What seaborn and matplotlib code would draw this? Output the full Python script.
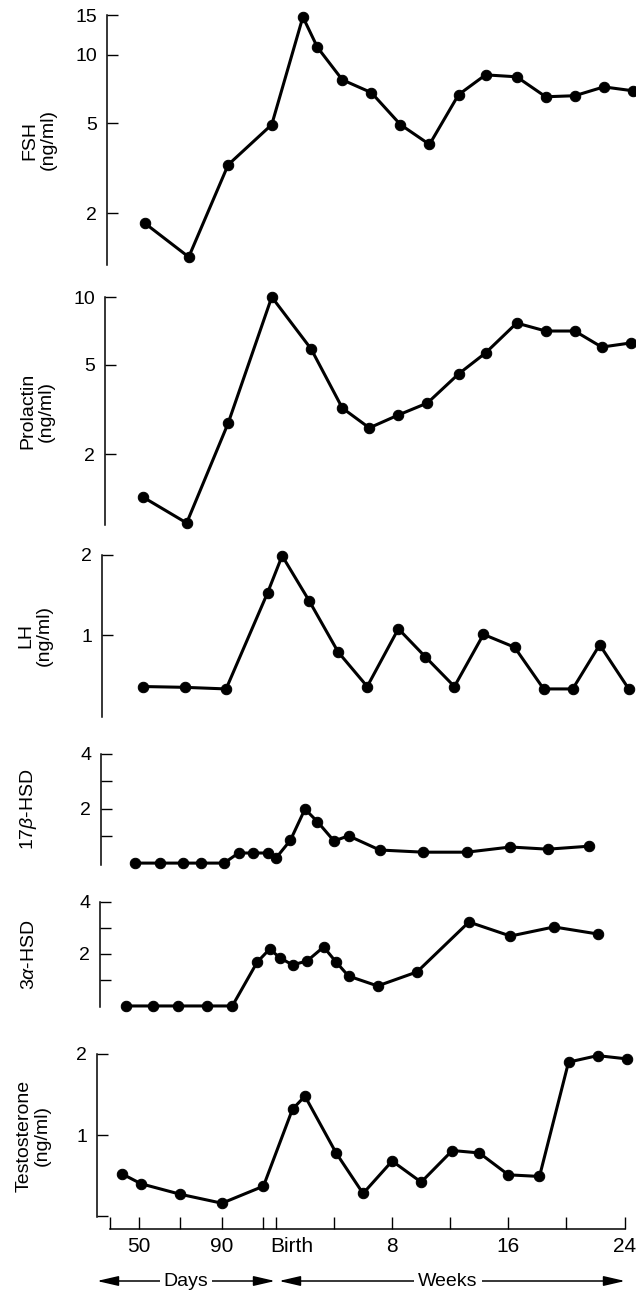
import numpy as np
import pandas as pd
import matplotlib
matplotlib.use('Agg')
import matplotlib.pyplot as plt
import matplotlib.transforms as mtransforms
import seaborn as sns

# ---------------- data (x = age in days from conception, birth ~ day 116) ----------------
fsh_day = [53, 74, 93, 114, 129, 136, 148, 162, 176, 190, 204, 217, 232, 246, 260, 274, 288]
fsh_val = [1.8, 1.28, 3.27, 4.92, 14.7, 10.8, 7.76, 6.81, 4.92, 4.02, 6.67, 8.16, 8.0, 6.53, 6.6, 7.22, 6.94]

prl_day = [52, 73, 93, 114, 133, 148, 161, 175, 189, 204, 217, 232, 246, 260, 273, 287]
prl_val = [1.29, 0.99, 2.75, 10.0, 5.87, 3.21, 2.62, 2.99, 3.38, 4.55, 5.64, 7.66, 7.06, 7.06, 5.99, 6.25]

lh_day = [52, 72, 92, 112, 119, 132, 146, 160, 175, 188, 202, 216, 231, 245, 259, 272, 286]
lh_val = [0.36, 0.35, 0.33, 1.53, 1.99, 1.43, 0.79, 0.36, 1.08, 0.73, 0.36, 1.01, 0.85, 0.33, 0.33, 0.88, 0.33]

hsd17_day = [48, 60, 71, 80, 91, 98, 105, 112, 116, 123, 130, 136, 144, 151, 166, 187, 208, 229, 247, 267]
hsd17_val = [0, 0, 0, 0, 0, 0.37, 0.37, 0.37, 0.18, 0.84, 1.98, 1.52, 0.81, 1.0, 0.48, 0.40, 0.40, 0.59, 0.51, 0.62]

hsd3_day = [44, 57, 69, 83, 95, 107, 113, 118, 124, 131, 139, 145, 151, 165, 184, 209, 229, 250, 271]
hsd3_val = [0, 0, 0, 0, 0, 1.69, 2.19, 1.85, 1.58, 1.73, 2.27, 1.69, 1.15, 0.77, 1.31, 3.23, 2.69, 3.04, 2.77]

testo_day = [42, 51, 70, 90, 110, 124, 130, 145, 158, 172, 186, 201, 214, 228, 243, 257, 271, 285]
testo_val = [0.52, 0.40, 0.27, 0.16, 0.37, 1.32, 1.48, 0.78, 0.28, 0.68, 0.42, 0.81, 0.78, 0.51, 0.49, 1.90, 1.98, 1.94]

x_ticks = [36, 50, 70, 90, 110, 116, 144, 172, 200, 228, 256, 284]
x_labels = ['', '50', '', '90', '', 'Birth', '', '8', '', '16', '', '24']

# ---------------- style ----------------
sns.set_style('ticks')
plt.rcParams['font.family'] = ['Liberation Sans', 'DejaVu Sans']
plt.rcParams['mathtext.fontset'] = 'custom'
plt.rcParams['mathtext.it'] = 'Liberation Sans:italic'

W, H = 636, 1294
fig = plt.figure(figsize=(W / 100, H / 100), dpi=100)
XLIM = (29.8, 289.5)

# label, x, y, log, ylim, yticks, yticklabels, top px, bottom px, spine px, label right px
panels = [
    ('FSH\n(ng/ml)', fsh_day, fsh_val, True, (1.18, 15), [2, 5, 10, 15], ['2', '5', '10', '15'], 15, 265, 107, 57),
    ('Prolactin\n(ng/ml)', prl_day, prl_val, True, (0.97, 10), [2, 5, 10], ['2', '5', '10'], 297, 525, 105, 55),
    ('LH\n(ng/ml)', lh_day, lh_val, False, (-0.02, 2), [1, 2], ['1', '2'], 555, 717, 102, 53),
    (r'17$\beta$-HSD', hsd17_day, hsd17_val, False, (-0.07, 4), [1, 2, 3, 4], ['', '2', '', '4'], 754, 865, 101, 39),
    (r'3$\alpha$-HSD', hsd3_day, hsd3_val, False, (-0.04, 4), [1, 2, 3, 4], ['', '2', '', '4'], 902, 1007, 100, 38),
    ('Testosterone\n(ng/ml)', testo_day, testo_val, False, (-0.01, 2), [0, 1, 2], ['', '1', '2'], 1054, 1217, 97, 51),
]

axes = []
for i, (label, xd, yd, is_log, ylim, yt, ytl, top, bot, spx, lpx) in enumerate(panels):
    ax = fig.add_axes([97 / W, 1 - bot / H, 539 / W, (bot - top) / H])
    axes.append(ax)
    sns.lineplot(x=xd, y=yd, ax=ax, color='black', lw=2.2, marker='o',
                 markersize=7.5, markeredgecolor='black', errorbar=None, clip_on=False)
    if is_log:
        ax.set_yscale('log')
    ax.set_xlim(*XLIM)
    ax.set_ylim(*ylim)
    ax.set_yticks(yt)
    ax.set_yticklabels(ytl)
    ax.minorticks_off()
    ax.tick_params(axis='y', direction='in', length=8, width=1.0, pad=7,
                   labelsize=14, colors='black')
    for s in ['top', 'right']:
        ax.spines[s].set_visible(False)
    ax.spines['left'].set_position(('data', XLIM[0] + (spx - 97) * (XLIM[1] - XLIM[0]) / 539))
    ax.spines['left'].set_linewidth(1.1)
    ax.spines['left'].set_color('black')
    ax.set_ylabel(label, fontsize=14, color='black', linespacing=1.1)
    ax.yaxis.set_label_coords((lpx - 97) / 539, 0.5)
    ax.set_xlabel('')
    if i < len(panels) - 1:
        ax.spines['bottom'].set_visible(False)
        ax.tick_params(axis='x', bottom=False, labelbottom=False)

# bottom time axis
ax = axes[-1]
ax.spines['bottom'].set_position(('outward', 8.6))
ax.spines['bottom'].set_bounds(36, 284)
ax.spines['bottom'].set_linewidth(1.1)
ax.spines['bottom'].set_color('black')
ax.set_xticks(x_ticks)
ax.set_xticklabels(x_labels)
ax.tick_params(axis='x', direction='in', length=8.5, width=1.0, pad=6,
               labelsize=15, colors='black')
birth_lbl = ax.get_xticklabels()[5]
birth_lbl.set_horizontalalignment('left')
birth_lbl.set_transform(birth_lbl.get_transform()
                        + mtransforms.ScaledTranslation(-0.06, 0, fig.dpi_scale_trans))

# Days / Weeks arrows
trans = mtransforms.blended_transform_factory(ax.transData, fig.transFigure)
ya = 1 - 1281 / H
d = lambda px: XLIM[0] + (px - 97) * (XLIM[1] - XLIM[0]) / 539
arrow = dict(arrowstyle='<|-|>,head_length=1.3,head_width=0.3', lw=1.1, color='black',
             shrinkA=0, shrinkB=0)
for x0, x1 in [(d(97), d(275)), (d(279), d(625))]:
    ax.annotate('', xy=(x1, ya), xytext=(x0, ya), xycoords=trans, textcoords=trans,
                arrowprops=arrow, annotation_clip=False)
ax.text(d(186), ya, 'Days', transform=trans, ha='center', va='center', fontsize=14,
        color='black', zorder=10, bbox=dict(facecolor='white', edgecolor='none', pad=3))
ax.text(d(448), ya, 'Weeks', transform=trans, ha='center', va='center', fontsize=14,
        color='black', zorder=10, bbox=dict(facecolor='white', edgecolor='none', pad=3))

fig.savefig('out.png', dpi=100, facecolor='white')
